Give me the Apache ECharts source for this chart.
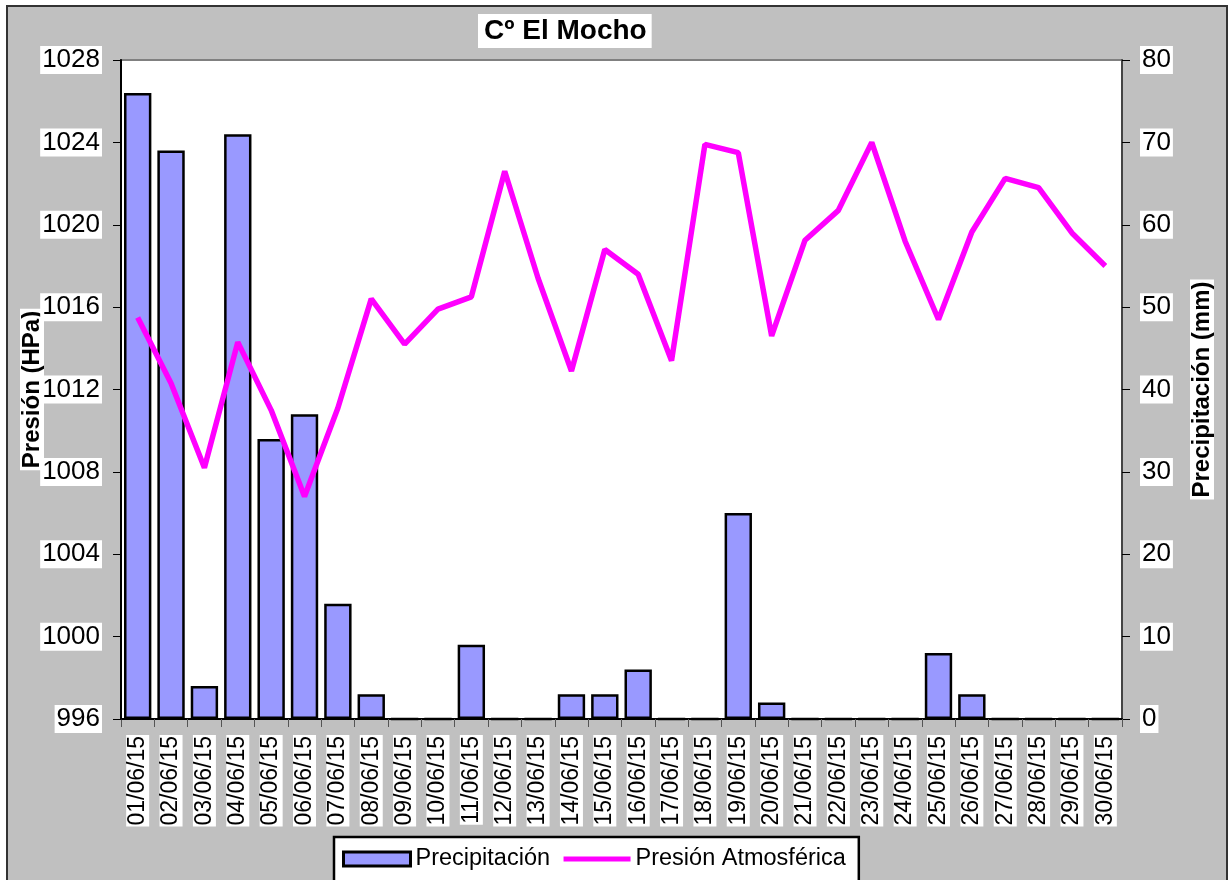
<!DOCTYPE html>
<html>
<head>
<meta charset="utf-8">
<script src="https://cdn.jsdelivr.net/npm/echarts@6/dist/echarts.min.js"></script>
<style>
  html, body { margin: 0; padding: 0; background: #fff; }
  #chart { width: 1228px; height: 880px; }
</style>
</head>
<body>
<div id="chart"></div>
<script>
// fechas del mes
const fechas = ['01/06/15', '02/06/15', '03/06/15', '04/06/15', '05/06/15', '06/06/15', '07/06/15', '08/06/15', '09/06/15', '10/06/15',
  '11/06/15', '12/06/15', '13/06/15', '14/06/15', '15/06/15', '16/06/15', '17/06/15', '18/06/15', '19/06/15', '20/06/15',
  '21/06/15', '22/06/15', '23/06/15', '24/06/15', '25/06/15', '26/06/15', '27/06/15', '28/06/15', '29/06/15', '30/06/15'];
// precipitación (mm)
const precipitacion = [76, 69, 4, 71, 34, 37, 14, 3, 0, 0,
  9, 0, 0, 3, 3, 6, 0, 0, 25, 2,
  0, 0, 0, 0, 8, 3, 0, 0, 0, 0];
// presión atmosférica (HPa)
const presion = [1015.5, 1012.3, 1008.2, 1014.3, 1011.0, 1006.8, 1011.1, 1016.4, 1014.2, 1015.9,
  1016.5, 1022.6, 1017.4, 1012.9, 1018.8, 1017.6, 1013.4, 1023.9, 1023.5, 1014.6,
  1019.25, 1020.7, 1024.0, 1019.2, 1015.4, 1019.65, 1022.25, 1021.8, 1019.6, 1018.0];

const chart = echarts.init(document.getElementById('chart'));
const font = 'Arial, "Liberation Sans", sans-serif';

const option = {
  backgroundColor: '#fff',
  animation: false,
  textStyle: { fontFamily: font },
  graphic: [
    {
      type: 'rect',
      z: -10,
      shape: { x: 7, y: 6, width: 1220, height: 880 },
      style: { fill: '#c0c0c0', stroke: '#333', lineWidth: 2 }
    }
  ],
  title: {
    text: 'Cº El Mocho',
    left: 478,
    top: 14,
    padding: [3, 5, 3, 6],
    backgroundColor: '#fff',
    textStyle: { fontFamily: font, fontSize: 28, fontWeight: 'bold', color: '#000' }
  },
  legend: {
    left: 334,
    top: 837,
    padding: [10, 13, 30, 8],
    backgroundColor: '#fff',
    borderColor: '#000',
    borderWidth: 2.5,
    itemWidth: 67,
    itemHeight: 14,
    itemGap: 11,
    textStyle: { fontFamily: font, fontSize: 23.5, color: '#000' },
    data: [
      { name: 'Precipitación', icon: 'rect', itemStyle: { borderWidth: 3, borderColor: '#000' } },
      { name: 'Presión Atmosférica', itemStyle: { opacity: 0 }, lineStyle: { width: 5 } }
    ]
  },
  grid: {
    left: 121,
    top: 60,
    right: 106,
    bottom: 161,
    outerBoundsMode: 'none',
    containLabel: false,
    show: true,
    backgroundColor: '#fff',
    borderColor: '#808080',
    borderWidth: 2
  },
  xAxis: {
    type: 'category',
    data: fechas,
    axisLine: { lineStyle: { color: '#000', width: 2 } },
    axisTick: { show: true, length: 8, lineStyle: { color: '#555' } },
    axisLabel: {
      rotate: 90,
      interval: 0,
      margin: 16,
      fontSize: 23,
      color: '#000',
      fontFamily: font,
      backgroundColor: '#fff',
      padding: [0, 1, 0, 1]
    }
  },
  yAxis: [
    {
      type: 'value',
      min: 996,
      max: 1028,
      interval: 4,
      position: 'left',
      name: 'Presión (HPa)',
      nameLocation: 'middle',
      nameGap: 77,
      nameMoveOverlap: false,
      z: 3,
      nameTextStyle: { fontFamily: font, fontSize: 24, fontWeight: 'bold', color: '#000', backgroundColor: '#fff', padding: [0, 2, 0, 2] },
      axisLine: { show: true, lineStyle: { color: '#000', width: 2 } },
      axisTick: { show: true, length: 8, lineStyle: { color: '#000' } },
      axisLabel: {
        fontSize: 26, color: '#000', fontFamily: font, margin: 19, backgroundColor: '#fff', padding: [1, 2, 1, 2],
        formatter: function(v) { return String(v); }
      },
      splitLine: { show: false }
    },
    {
      type: 'value',
      min: 0,
      max: 80,
      interval: 10,
      position: 'right',
      name: 'Precipitación (mm)',
      nameLocation: 'middle',
      nameGap: 68,
      nameTextStyle: { fontFamily: font, fontSize: 24, fontWeight: 'bold', color: '#000', backgroundColor: '#fff', padding: [0, 2, 0, 2] },
      axisLine: { show: true, lineStyle: { color: '#444', width: 2 } },
      axisTick: { show: true, length: 8, lineStyle: { color: '#000' } },
      axisLabel: { fontSize: 26, color: '#000', fontFamily: font, margin: 18, backgroundColor: '#fff', padding: [1, 2, 1, 2] },
      splitLine: { show: false }
    }
  ],
  series: [
    {
      name: 'Precipitación',
      type: 'bar',
      yAxisIndex: 1,
      data: precipitacion,
      barCategoryGap: '18%',
      itemStyle: { color: '#9999ff', borderColor: '#000', borderWidth: 2.5 }
    },
    {
      name: 'Presión Atmosférica',
      type: 'line',
      yAxisIndex: 0,
      data: presion,
      symbol: 'none',
      lineStyle: { color: '#ff00ff', width: 5.5 },
      itemStyle: { color: '#ff00ff' }
    }
  ]
};
chart.setOption(option);
</script>
</body>
</html>
